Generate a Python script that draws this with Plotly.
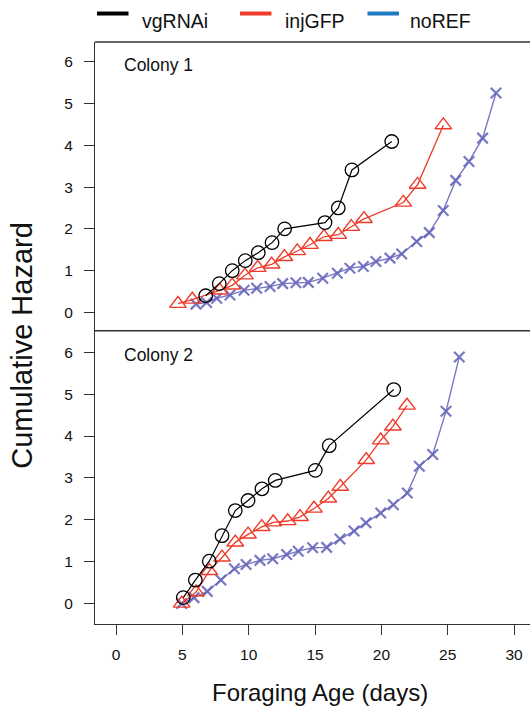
import plotly.graph_objects as go

# ---------------- data ----------------
series_names = ["vgRNAi", "injGFP", "noREF"]
panel_labels = ["Colony 1", "Colony 2"]
x_ticks = [0, 5, 10, 15, 20, 25, 30]
y_ticks = [0, 1, 2, 3, 4, 5, 6]

c1_vg_x = [6.76, 7.78, 8.76, 9.74, 10.72, 11.76, 12.71, 15.75, 16.75, 17.78, 20.78]
c1_vg_y = [0.40, 0.69, 1.00, 1.24, 1.43, 1.67, 2.00, 2.15, 2.50, 3.41, 4.09]

c1_inj_x = [4.67, 5.75, 7.81, 8.76, 9.72, 10.68, 11.73, 12.69, 13.66, 14.62, 15.67,
            16.75, 17.73, 18.69, 21.65, 22.73, 24.67]
c1_inj_y = [0.21, 0.31, 0.53, 0.65, 0.89, 1.07, 1.15, 1.33, 1.47, 1.62, 1.81,
            1.86, 2.05, 2.24, 2.63, 3.06, 4.48]

c1_no_x = [6.03, 6.83, 7.59, 8.59, 9.65, 10.60, 11.61, 12.56, 13.56, 14.49, 15.58, 16.68,
           17.63, 18.64, 19.59, 20.65, 21.53, 22.66, 23.61, 24.66, 25.60, 26.60, 27.63, 28.64]
c1_no_y = [0.20, 0.24, 0.34, 0.42, 0.53, 0.58, 0.62, 0.69, 0.71, 0.72, 0.82, 0.94,
           1.06, 1.10, 1.22, 1.30, 1.40, 1.70, 1.91, 2.44, 3.16, 3.61, 4.17, 5.25]

c2_vg_x = [5.07, 5.98, 7.03, 7.99, 8.99, 9.95, 11.0, 12.0, 15.02, 16.07, 20.93]
c2_vg_y = [0.14, 0.56, 1.01, 1.62, 2.22, 2.46, 2.74, 2.94, 3.18, 3.77, 5.11]

c2_inj_x = [4.95, 6.03, 7.03, 7.99, 8.99, 9.95, 10.98, 11.85, 12.94, 13.87, 14.92,
            16.0, 16.9, 18.86, 19.95, 20.87, 21.93]
c2_inj_y = [0.0, 0.27, 0.78, 1.10, 1.46, 1.65, 1.83, 1.94, 1.97, 2.07, 2.27,
            2.51, 2.79, 3.43, 3.90, 4.23, 4.73]

c2_no_x = [4.95, 5.88, 6.88, 7.91, 8.92, 9.80, 10.85, 11.81, 12.86, 13.74, 14.82,
           15.88, 16.88, 17.94, 18.84, 19.95, 20.9, 21.95, 22.86, 23.87, 24.87, 25.87]
c2_no_y = [0.0, 0.14, 0.29, 0.56, 0.83, 0.93, 1.03, 1.07, 1.17, 1.25, 1.33,
           1.34, 1.54, 1.73, 1.93, 2.16, 2.36, 2.64, 3.28, 3.56, 4.59, 5.89]

# ---------------- styling ----------------
FONT = "Liberation Sans, Arial, Helvetica, sans-serif"
BLACK = "#000000"
RED = "#EE3B2A"
LEG_BLUE = "#1F7BC2"
PLOT_BLUE = "rgba(96,96,184,0.85)"
AXC = "#333333"

W, H = 530, 711
ML, MR, MT, MB = 95, 0, 42, 86.5
PH = H - MT - MB
PW = W - ML - MR
split_px = 331
split = (H - MB - split_px) / PH


def px(xp):
    return (xp - ML) / PW


def py(yp):
    return (H - MB - yp) / PH


fig = go.Figure()

panels = [
    ("y", c1_vg_x, c1_vg_y, c1_inj_x, c1_inj_y, c1_no_x, c1_no_y),
    ("y2", c2_vg_x, c2_vg_y, c2_inj_x, c2_inj_y, c2_no_x, c2_no_y),
]
for yax, vx, vy, ix, iy, nx, ny in panels:
    fig.add_trace(go.Scatter(
        x=nx, y=ny, yaxis=yax, mode="lines+markers", name=series_names[2], showlegend=False,
        line=dict(color=PLOT_BLUE, width=1.4),
        marker=dict(symbol="x-thin-open", size=10.5, line=dict(color=PLOT_BLUE, width=2.2))))
    fig.add_trace(go.Scatter(
        x=ix, y=iy, yaxis=yax, mode="lines+markers", name=series_names[1], showlegend=False,
        line=dict(color=RED, width=1.3),
        marker=dict(symbol="triangle-up-open", size=14.5, line=dict(color=RED, width=1.4))))
    fig.add_trace(go.Scatter(
        x=vx, y=vy, yaxis=yax, mode="lines+markers", name=series_names[0], showlegend=False,
        line=dict(color=BLACK, width=1.2),
        marker=dict(symbol="circle-open", size=13.5, line=dict(color=BLACK, width=1.3))))

axis_common = dict(ticks="outside", ticklen=10, tickwidth=1.2, tickcolor=AXC,
                   showline=True, linecolor=AXC, linewidth=1.3, showgrid=False,
                   zeroline=False, tickfont=dict(family=FONT, size=15.5, color="#111"))

fig.update_layout(
    width=W, height=H, margin=dict(l=ML, r=MR, t=MT, b=MB),
    paper_bgcolor="white", plot_bgcolor="white", showlegend=False,
    font=dict(family=FONT, color="#111"),
    xaxis=dict(range=[-1.583, 31.2], domain=[0, 1], anchor="y2", tickvals=x_ticks,
               ticklabelstandoff=6, **axis_common),
    yaxis=dict(range=[-0.437, 6.47], domain=[split, 1], anchor="x", tickvals=y_ticks,
               ticklabelstandoff=8, **axis_common),
    yaxis2=dict(range=[-0.49, 6.515], domain=[0, split], anchor="x", tickvals=y_ticks,
                ticklabelstandoff=8, **axis_common),
)

shapes = [
    dict(type="line", xref="paper", yref="paper", x0=0, x1=1.01, y0=1, y1=1,
         line=dict(color=AXC, width=1.3)),
    dict(type="line", xref="paper", yref="paper", x0=0, x1=1.01, y0=split, y1=split,
         line=dict(color=AXC, width=1.3)),
]

annotations = []
# legend (swatches + labels)
leg = [(97, 128.5, 140, BLACK, series_names[0]),
       (240, 271.5, 283, RED, series_names[1]),
       (367.5, 399, 408, LEG_BLUE, series_names[2])]
for x0, x1, xt, col, name in leg:
    shapes.append(dict(type="line", xref="paper", yref="paper", x0=px(x0), x1=px(x1),
                       y0=py(13.5), y1=py(13.5), line=dict(color=col, width=4)))
    annotations.append(dict(x=px(xt), y=py(20.5), xref="paper", yref="paper", text=name,
                            showarrow=False, xanchor="left", yanchor="middle",
                            font=dict(family=FONT, size=19.5, color="#111")))

# panel labels
for lab, yc in zip(panel_labels, [65.5, 355.5]):
    annotations.append(dict(x=px(122), y=py(yc), xref="paper", yref="paper", text=lab,
                            showarrow=False, xanchor="left", yanchor="middle",
                            font=dict(family=FONT, size=17.5, color="#111")))

# axis titles
annotations.append(dict(x=px(320), y=py(693), xref="paper", yref="paper",
                        text="Foraging Age (days)", showarrow=False,
                        xanchor="center", yanchor="middle",
                        font=dict(family=FONT, size=24, color="#111")))
annotations.append(dict(x=px(22), y=py(346), xref="paper", yref="paper",
                        text="Cumulative Hazard", showarrow=False, textangle=-90,
                        xanchor="center", yanchor="middle",
                        font=dict(family=FONT, size=29, color="#111")))

fig.update_layout(shapes=shapes, annotations=annotations)

fig.write_html(
    "out.html",
    config={"displayModeBar": False},
    post_script="document.body.style.margin='0';document.body.style.overflow='hidden';",
)
